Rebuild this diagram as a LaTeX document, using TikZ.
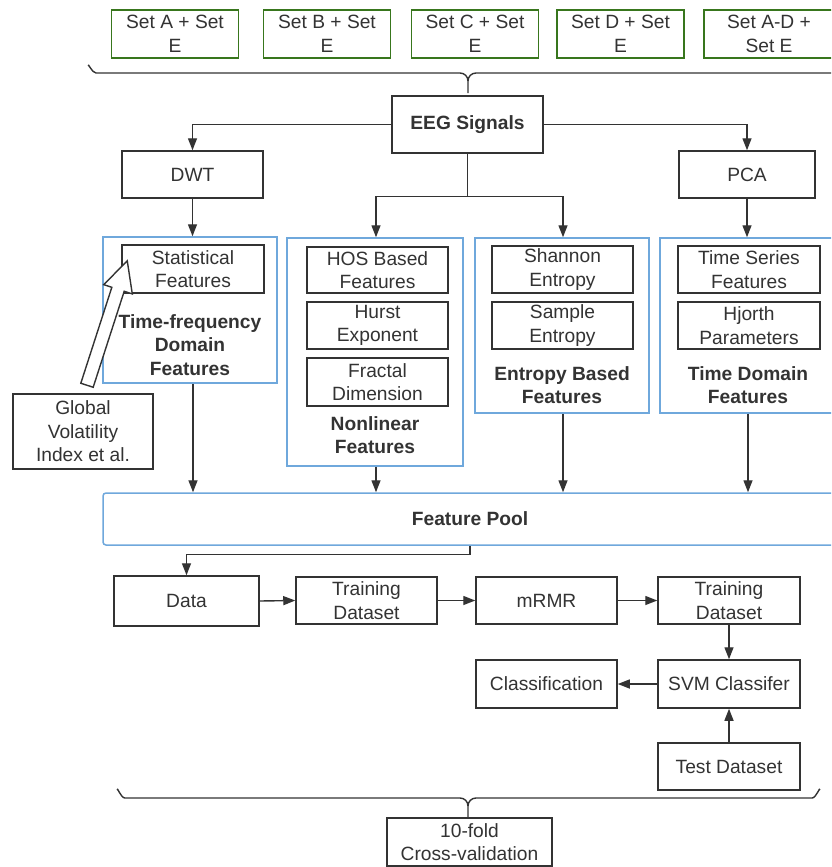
\documentclass[tikz,border=0pt]{standalone}
\usepackage{fontspec}
\setmainfont{Liberation Sans}
\usetikzlibrary{arrows.meta,calc}
\definecolor{txt}{HTML}{333333}
\definecolor{boxgray}{HTML}{333333}
\definecolor{setgreen}{HTML}{38761D}
\definecolor{grpblue}{HTML}{6FA8DC}
\begin{document}
\begin{tikzpicture}[x=1pt,y=-1pt,
  font=\fontsize{19.2}{23.5}\selectfont, text=txt,
  box/.style={draw=boxgray, line width=1.5pt, align=center, inner sep=0pt},
  setbox/.style={draw=setgreen, line width=1.5pt, align=center, inner sep=0pt, minimum width=127pt, minimum height=48pt},
  grp/.style={draw=grpblue, line width=1.5pt, inner sep=0pt},
  ttl/.style={font=\fontsize{19.2}{23.5}\selectfont\bfseries, align=center, inner sep=0pt},
  conn/.style={draw=boxgray, line width=1.4pt, -{Triangle[length=12pt,width=9pt]}},
  plain/.style={draw=boxgray, line width=1.4pt},
  hollow/.style={draw=boxgray, line width=1.4pt, fill=white, line join=miter}]
\clip (0,0) rectangle (831,867);
\fill[white] (0,0) rectangle (831,867);
% top sets
\node[setbox] (setA) at (175,34) {Set A + Set\\E};
\node[setbox] (setB) at (327,34) {Set B + Set\\E};
\node[setbox] (setC) at (475,34) {Set C + Set\\E};
\node[setbox] (setD) at (620.5,34) {Set D + Set\\E};
\node[setbox, minimum width=130pt] (setAD) at (769,34) {Set A-D +\\Set E};
% top brace
\coordinate (tbl) at (88,66);
\coordinate (tbm) at (468,93);
\draw[plain] (tbl) to[out=90,in=180] ++(8,7) -- (460,73) to[out=0,in=90] (468,81) -- (tbm);
\draw[plain] (468,81) to[out=90,in=180] (476,73) -- (845,73);
% EEG
\node[box, minimum width=151pt, minimum height=57pt, font=\fontsize{19.2}{23.5}\selectfont\bfseries] (eeg) at (467.5,124.5) {EEG Signals};
\node[box, minimum width=141pt, minimum height=47pt] (dwt) at (192.5,174.5) {DWT};
\node[box, minimum width=136pt, minimum height=47pt] (pca) at (747,174.5) {PCA};
% groups
\node[grp, minimum width=174pt, minimum height=146pt] (tfg) at (190,310) {};
\node[box, minimum width=142pt, minimum height=48pt] (stat) at (193,269) {Statistical\\Features};
\node[ttl] (tft) at (190,345) {Time-frequency\\Domain\\Features};

\node[grp, minimum width=176pt, minimum height=228pt] (nlg) at (375,352) {};
\node[box, minimum width=141pt, minimum height=46pt] (hos) at (377.5,270) {HOS Based\\Features};
\node[box, minimum width=141pt, minimum height=47pt] (hurst) at (377.5,325.5) {Hurst\\Exponent};
\node[box, minimum width=141pt, minimum height=48pt] (fractal) at (377.5,382) {Fractal\\Dimension};
\node[ttl] (nlt) at (375,435) {Nonlinear\\Features};

\node[grp, minimum width=174pt, minimum height=175pt] (eng) at (562,325.5) {};
\node[box, minimum width=141pt, minimum height=47pt] (shannon) at (562.5,269.5) {Shannon\\Entropy};
\node[box, minimum width=141pt, minimum height=47pt] (sample) at (562.5,325.5) {Sample\\Entropy};
\node[ttl] (ent) at (562,385) {Entropy Based\\Features};

\node[grp, minimum width=176pt, minimum height=175pt] (tdg) at (748,325.5) {};
\node[box, minimum width=142pt, minimum height=47pt] (tseries) at (749,269.5) {Time Series\\Features};
\node[box, minimum width=142pt, minimum height=47pt] (hjorth) at (749,325.5) {Hjorth\\Parameters};
\node[ttl] (tdt) at (748,385) {Time Domain\\Features};

\node[box, minimum width=140pt, minimum height=75pt] (gv) at (83,431.5) {Global\\Volatility\\Index et al.};

% feature pool
\node[draw=grpblue, line width=1.5pt, rounded corners=3pt, minimum width=740pt, minimum height=52pt, inner sep=0pt] (pool) at (473,519) {};
\node[ttl] (poolt) at (470,519) {Feature Pool};

% lower chain
\node[box, minimum width=145pt, minimum height=50pt] (data) at (186.5,601) {Data};
\node[box, minimum width=141pt, minimum height=47pt] (train1) at (366.5,600.5) {Training\\Dataset};
\node[box, minimum width=141pt, minimum height=47pt] (mrmr) at (546.5,600.5) {mRMR};
\node[box, minimum width=142pt, minimum height=47pt] (train2) at (729,600.5) {Training\\Dataset};
\node[box, minimum width=142pt, minimum height=48pt] (svm) at (729,684) {SVM Classifer};
\node[box, minimum width=141pt, minimum height=48pt] (classif) at (546.5,684) {Classification};
\node[box, minimum width=142pt, minimum height=47pt] (test) at (729,766.5) {Test Dataset};
\node[box, minimum width=165pt, minimum height=48pt] (cv) at (469.5,842) {10-fold\\Cross-validation};

% bottom brace
\draw[plain] (117,790) to[out=90,in=180] (125,798) -- (460,798) to[out=0,in=90] (468,806) -- (cv.north -| 468,0);
\draw[plain] (468,806) to[out=90,in=180] (476,798) -- (812,798) to[out=0,in=90] (820,790);

% connectors
\draw[conn] (eeg.west) -| (dwt.north);
\draw[conn] (eeg.east) -| (pca.north);
\coordinate (split) at ($(eeg.south)+(0,43)$);
\draw[plain] (eeg.south) -- (split);
\draw[conn] (split) -| (376,0 |- nlg.north);
\draw[conn] (split) -| (563,0 |- eng.north);
\draw[conn] (dwt.south) -- (dwt.south |- tfg.north);
\draw[conn] (pca.south) -- (pca.south |- tdg.north);
\draw[conn] (193,0 |- tfg.south) -- (193,0 |- pool.north);
\draw[conn] (376,0 |- nlg.south) -- (376,0 |- pool.north);
\draw[conn] (563,0 |- eng.south) -- (563,0 |- pool.north);
\draw[conn] (748,0 |- tdg.south) -- (748,0 |- pool.north);
\draw[conn] (470,0 |- pool.south) -- ++(0,9) -| (data.north);
\draw[conn] (data.east) -- (train1.west);
\draw[conn] (train1.east) -- (mrmr.west);
\draw[conn] (mrmr.east) -- (train2.west);
\draw[conn] (train2.south) -- (svm.north);
\draw[conn] (svm.west) -- (classif.east);
\draw[conn] (test.north) -- (svm.south);

% hollow arrow from Global Volatility box to Statistical Features
\coordinate (gvtail) at ($(gv.north)+(4,-8)$);
\coordinate (gvtip) at ($(stat.south west)+(6,-33)$);
\coordinate (gvB) at ($(gvtip)!30pt!(gvtail)$);
\draw[hollow] ($(gvtail)!6.5pt!90:(gvtip)$) -- ($(gvB)!6.5pt!-90:(gvtail)$) -- ($(gvB)!15pt!-90:(gvtail)$) -- (gvtip) -- ($(gvB)!15pt!90:(gvtail)$) -- ($(gvB)!6.5pt!90:(gvtail)$) -- ($(gvtail)!6.5pt!-90:(gvtip)$) -- cycle;
\end{tikzpicture}
\end{document}
